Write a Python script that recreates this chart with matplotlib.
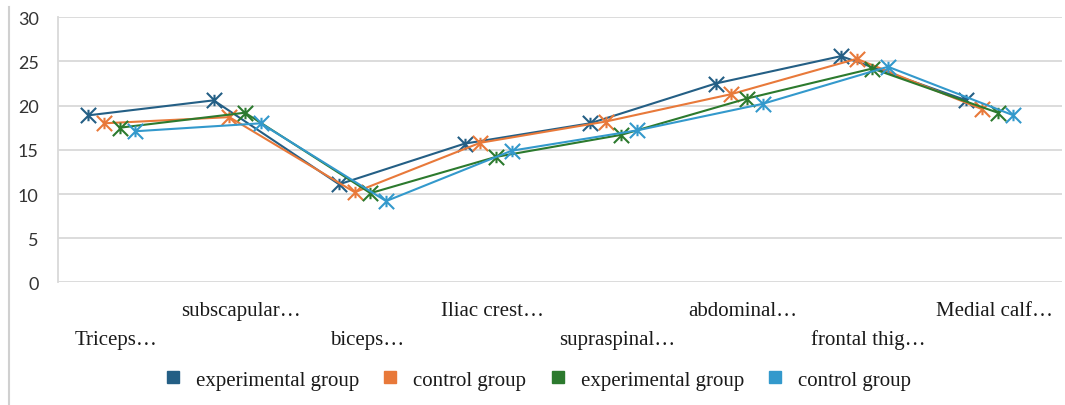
import matplotlib
matplotlib.use("Agg")
import matplotlib.pyplot as plt
from matplotlib.lines import Line2D
from matplotlib.path import Path

# Skinfold sites (x categories) and tick labels as shown on the axis
sites = ["Triceps…", "subscapular…", "biceps…", "Iliac crest…",
         "supraspinal…", "abdominal…", "frontal thig…", "Medial calf…"]

# Skinfold thickness (mm) per series
exp_group_1 = [18.9, 20.6, 11.1, 15.7, 18.0, 22.5, 25.6, 20.6]
ctrl_group_1 = [18.0, 18.7, 10.2, 15.8, 18.2, 21.3, 25.3, 19.6]
exp_group_2 = [17.5, 19.2, 10.1, 14.2, 16.7, 20.8, 24.2, 19.2]
ctrl_group_2 = [17.1, 18.0, 9.2, 14.9, 17.2, 20.2, 24.4, 18.9]

series_names = ["experimental group", "control group",
                "experimental group", "control group"]
series_values = [exp_group_1, ctrl_group_1, exp_group_2, ctrl_group_2]
y_ticks = [0, 5, 10, 15, 20, 25, 30]

colors = ["#245F85", "#E8793A", "#2C7A2E", "#3399CC"]
offsets = [-0.26, -0.135, -0.01, 0.115]

# Star marker: an "x" with a short vertical stroke
star = Path(
    [(-1, -1), (1, 1), (-1, 1), (1, -1), (0, -0.75), (0, 0.75)],
    [Path.MOVETO, Path.LINETO, Path.MOVETO, Path.LINETO, Path.MOVETO, Path.LINETO],
)

fig = plt.figure(figsize=(10.65, 4.06), dpi=100)
ax = fig.add_axes([0.0545, 0.302, 0.9425, 0.653])

for vals, col, off, name in zip(series_values, colors, offsets, series_names):
    xs = [i + off for i in range(len(vals))]
    ax.plot(xs, vals, color=col, lw=1.5, marker=star, markersize=11,
            markeredgewidth=1.5, markeredgecolor=col, label=name, zorder=3)

ax.set_xlim(-0.5, len(sites) - 0.5)
ax.set_ylim(0, 30)
ax.set_yticks(y_ticks)
ax.yaxis.grid(True, color="#D9D9D9", lw=1.3)
ax.set_axisbelow(True)
for s in ["top", "right", "bottom"]:
    ax.spines[s].set_visible(False)
ax.spines["left"].set_color("#D9D9D9")
ax.spines["left"].set_linewidth(1.3)
ax.tick_params(axis="y", length=0, pad=14, labelsize=13, labelcolor="#333333")
for lab in ax.get_yticklabels():
    lab.set_family("Lato")

# Category labels in two staggered rows
ax.set_xticks([])
for i, name in enumerate(sites):
    y = -0.106 if i % 2 == 1 else -0.215
    ax.text(i - 0.04, y, name, transform=ax.get_xaxis_transform(),
            ha="center", va="center", fontsize=15, family="Liberation Serif",
            color="#1A1A1A")

handles = [Line2D([], [], ls="none", marker="s", markersize=9,
                  markerfacecolor=c, markeredgecolor=c) for c in colors]
fig.legend(handles, series_names, loc="center", bbox_to_anchor=(0.505, 0.062),
           ncol=4, frameon=False, prop={"family": "Liberation Serif", "size": 15},
           handlelength=0.8, handletextpad=0.7, columnspacing=1.1,
           labelcolor="#1A1A1A")

# Left border of the chart frame
fig.add_artist(Line2D([0.0085, 0.0085], [0.0, 0.98], transform=fig.transFigure,
                      color="#D0D0D0", lw=1.5))

fig.savefig("out.png", dpi=100)
